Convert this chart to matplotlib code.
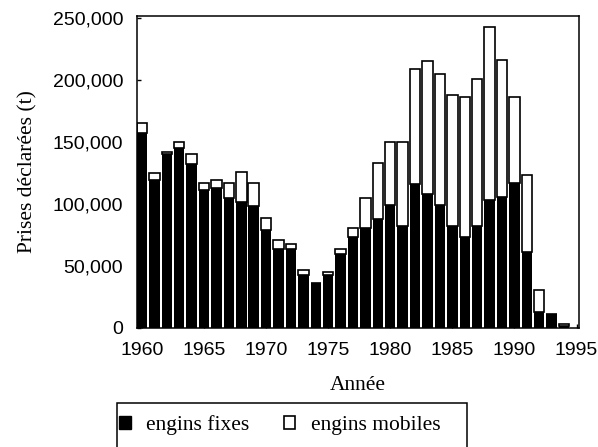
import matplotlib
matplotlib.use("Agg")
import matplotlib.pyplot as plt
from matplotlib.ticker import FuncFormatter
from matplotlib.patches import Patch, Rectangle

# Prises déclarées par année (t)
years = list(range(1960, 1995))
fixes = [157000, 119000, 140000, 145000, 132000, 111000, 113000, 105000, 102000, 98000,
         79000, 64000, 64000, 43000, 36000, 43000, 60000, 73000, 81000, 88000,
         99000, 82000, 116000, 108000, 99000, 82000, 73000, 82000, 103000, 106000,
         117000, 61000, 13000, 11000, 2000]
mobiles = [8000, 6000, 2000, 5000, 8000, 6000, 6000, 12000, 24000, 19000,
           10000, 7000, 4000, 4000, 0, 2000, 4000, 8000, 24000, 45000,
           51000, 68000, 93000, 107000, 106000, 106000, 113000, 119000, 140000, 110000,
           69000, 62000, 18000, 0, 1000]
xticks = [1960, 1965, 1970, 1975, 1980, 1985, 1990, 1995]
yticks = [0, 50000, 100000, 150000, 200000, 250000]

sans = "Liberation Sans"
serif = "Liberation Serif"

fig = plt.figure(figsize=(5.98, 4.47), dpi=100)
ax = fig.add_axes([137 / 598, 1 - 328 / 447, (579 - 137) / 598, (328 - 16) / 447])

w = 0.84
ax.bar(years, fixes, width=w, color="black", edgecolor="none")
ax.bar(years, mobiles, width=w, bottom=fixes, color="white", edgecolor="black", linewidth=1.2)

ax.set_xlim(1959.6, 1995.2)
ax.set_ylim(0, 251600)
ax.set_xticks(xticks)
ax.set_yticks(yticks)
ax.yaxis.set_major_formatter(FuncFormatter(lambda v, p: f"{v:,.0f}"))
ax.tick_params(direction="in", length=3, width=1, pad=10, labelsize=14)
for lab in ax.get_xticklabels() + ax.get_yticklabels():
    lab.set_fontfamily(sans)
for s in ax.spines.values():
    s.set_linewidth(1.1)

ax.set_xlabel("Année", fontfamily=serif, fontsize=15.5, labelpad=12)
ax.set_ylabel("Prises déclarées (t)", fontfamily=serif, fontsize=15.5, labelpad=11)

# legend below the plot, box cut by the bottom of the page
handles = [Patch(facecolor="black", edgecolor="black"),
           Patch(facecolor="white", edgecolor="black", linewidth=1.2)]
leg = fig.legend(handles, ["engins fixes", "engins mobiles"], ncol=2, frameon=False,
                 loc="center left", bbox_to_anchor=(119 / 598, 1 - 425 / 447),
                 borderaxespad=0, borderpad=0, handlelength=0.55, handleheight=0.55,
                 handletextpad=0.7, columnspacing=1.6,
                 prop={"family": serif, "size": 15.5})
fig.patches.append(Rectangle((117 / 598, -0.02), (467 - 117) / 598, 0.02 + 1 - 403 / 447,
                             transform=fig.transFigure, fill=False,
                             edgecolor="black", linewidth=1.1))

fig.savefig("out.png", dpi=100)
